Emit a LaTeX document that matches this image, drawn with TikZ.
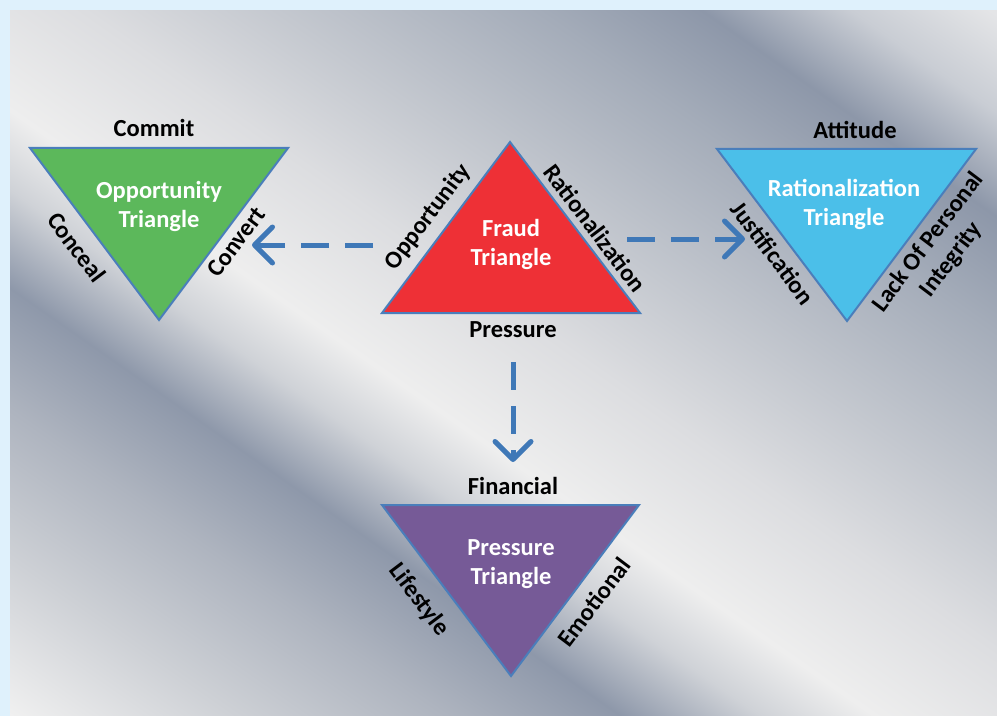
\documentclass[tikz,border=0pt]{standalone}
\usepackage{fontspec}
\setmainfont{Carlito}
\usetikzlibrary{arrows.meta}

% palette
\definecolor{frameblue}{HTML}{DFF1FC}
\definecolor{triedge}{HTML}{4A7EBB}
\definecolor{arrowblue}{HTML}{3F78B7}
\definecolor{oppgreen}{HTML}{5CB85B}
\definecolor{fraudred}{HTML}{EE3036}
\definecolor{ratblue}{HTML}{4BBFE9}
\definecolor{prespurple}{HTML}{765A97}
% brushed-metal backdrop tones
\definecolor{mA}{HTML}{E6E7E9}
\definecolor{mB}{HTML}{E4E5E7}
\definecolor{mC}{HTML}{C9CDD4}
\definecolor{mD}{HTML}{8D97A9}
\definecolor{mE}{HTML}{A4ACB9}
\definecolor{mF}{HTML}{C4C8CF}
\definecolor{mG}{HTML}{DCDDE0}
\definecolor{mH}{HTML}{EEEEEE}
\definecolor{mI}{HTML}{CFD2D7}
\definecolor{mJ}{HTML}{8E98AA}
\definecolor{mK}{HTML}{AEB4BF}
\definecolor{mL}{HTML}{CDD0D5}
\definecolor{mM}{HTML}{F0F0F0}

\pgfdeclarehorizontalshading{brushedmetal}{100bp}{%
  color(0bp)=(mA); color(25bp)=(mA); color(26.667bp)=(mB);
  color(30bp)=(mC); color(33.542bp)=(mD); color(37.5bp)=(mE);
  color(43.75bp)=(mF); color(48.333bp)=(mG); color(53.542bp)=(mH);
  color(56.25bp)=(mI); color(59.583bp)=(mJ); color(63.75bp)=(mK);
  color(68.75bp)=(mL); color(74.167bp)=(mM); color(75bp)=(mM);
  color(100bp)=(mM)}

\tikzset{
  tri/.style={draw=triedge, line width=2bp, line join=miter},
  lbl/.style={font=\fontsize{24.5bp}{29bp}\selectfont\bfseries, text=black, inner sep=0pt},
  inlbl/.style={lbl, text=white, align=center},
  flow/.style={draw=arrowblue, line width=5bp, dash pattern=on 28bp off 16bp,
    -{Straight Barb[length=18bp, width=36bp, round]}},
}

\begin{document}
\begin{tikzpicture}[x=1bp, y=-1bp]
\useasboundingbox (0,0) rectangle (997,716);

% frame and brushed-metal backdrop (diagonal streaks)
\fill[frameblue] (0,0) rectangle (997,716);
\begin{scope}
  \clip (10,11) rectangle (997,716);
  \shade[shading=brushedmetal, shading angle=235]
    (-97,-247.6) rectangle (1103,952.4);
\end{scope}

% triangles
\draw[tri, fill=oppgreen] (30,148) coordinate (g1) -- (288,148) coordinate (g2)
  -- (159,320) coordinate (g3) -- cycle;
\draw[tri, fill=fraudred] (510,142) coordinate (r1) -- (640,313) coordinate (r2)
  -- (382,313) coordinate (r3) -- cycle;
\draw[tri, fill=ratblue] (717,149) coordinate (b1) -- (976,149) coordinate (b2)
  -- (847,321) coordinate (b3) -- cycle;
\draw[tri, fill=prespurple] (382,505) coordinate (p1) -- (639,505) coordinate (p2)
  -- (511,676) coordinate (p3) -- cycle;

% triangle titles
\node[inlbl] (oppT) at (159,206) {Opportunity\\Triangle};
\node[inlbl] (fraudT) at (511,244) {Fraud\\Triangle};
\node[inlbl] (ratT) at (844,204) {Rationalization\\Triangle};
\node[inlbl] (presT) at (511,564) {Pressure\\Triangle};

% side labels
\node[lbl] (commit) at (154,128) {Commit};
\node[lbl, rotate=-53] (conceal) at (77,247) {Conceal};
\node[lbl, rotate=53] (convert) at (236,242) {Convert};

\node[lbl, rotate=53] (fOpp) at (428,217) {Opportunity};
\node[lbl, rotate=-53] (fRat) at (595,228) {Rationalization};
\node[lbl] (fPres) at (513,330) {Pressure};

\node[lbl] (attitude) at (855,130) {Attitude};
\node[lbl, rotate=-53] (justif) at (773,253) {Justification};
\node[lbl, rotate=53, align=center] (lack) at (940,251) {Lack Of Personal\\Integrity};

\node[lbl] (financial) at (513,486) {Financial};
\node[lbl, rotate=-53] (lifestyle) at (419,600) {Lifestyle};
\node[lbl, rotate=53] (emotional) at (594,602) {Emotional};

% connectors
\coordinate (fraudWest) at (373,245);
\coordinate (oppEast) at (252,245);
\coordinate (fraudEast) at (627,239);
\coordinate (ratWest) at (745,239);
\coordinate (fraudSouth) at (513,362);
\coordinate (presNorth) at (513,462);
\draw[flow] (fraudWest) -- (oppEast);
\draw[flow] (fraudEast) -- (ratWest);
\draw[flow] (fraudSouth) -- (presNorth);
\end{tikzpicture}
\end{document}
